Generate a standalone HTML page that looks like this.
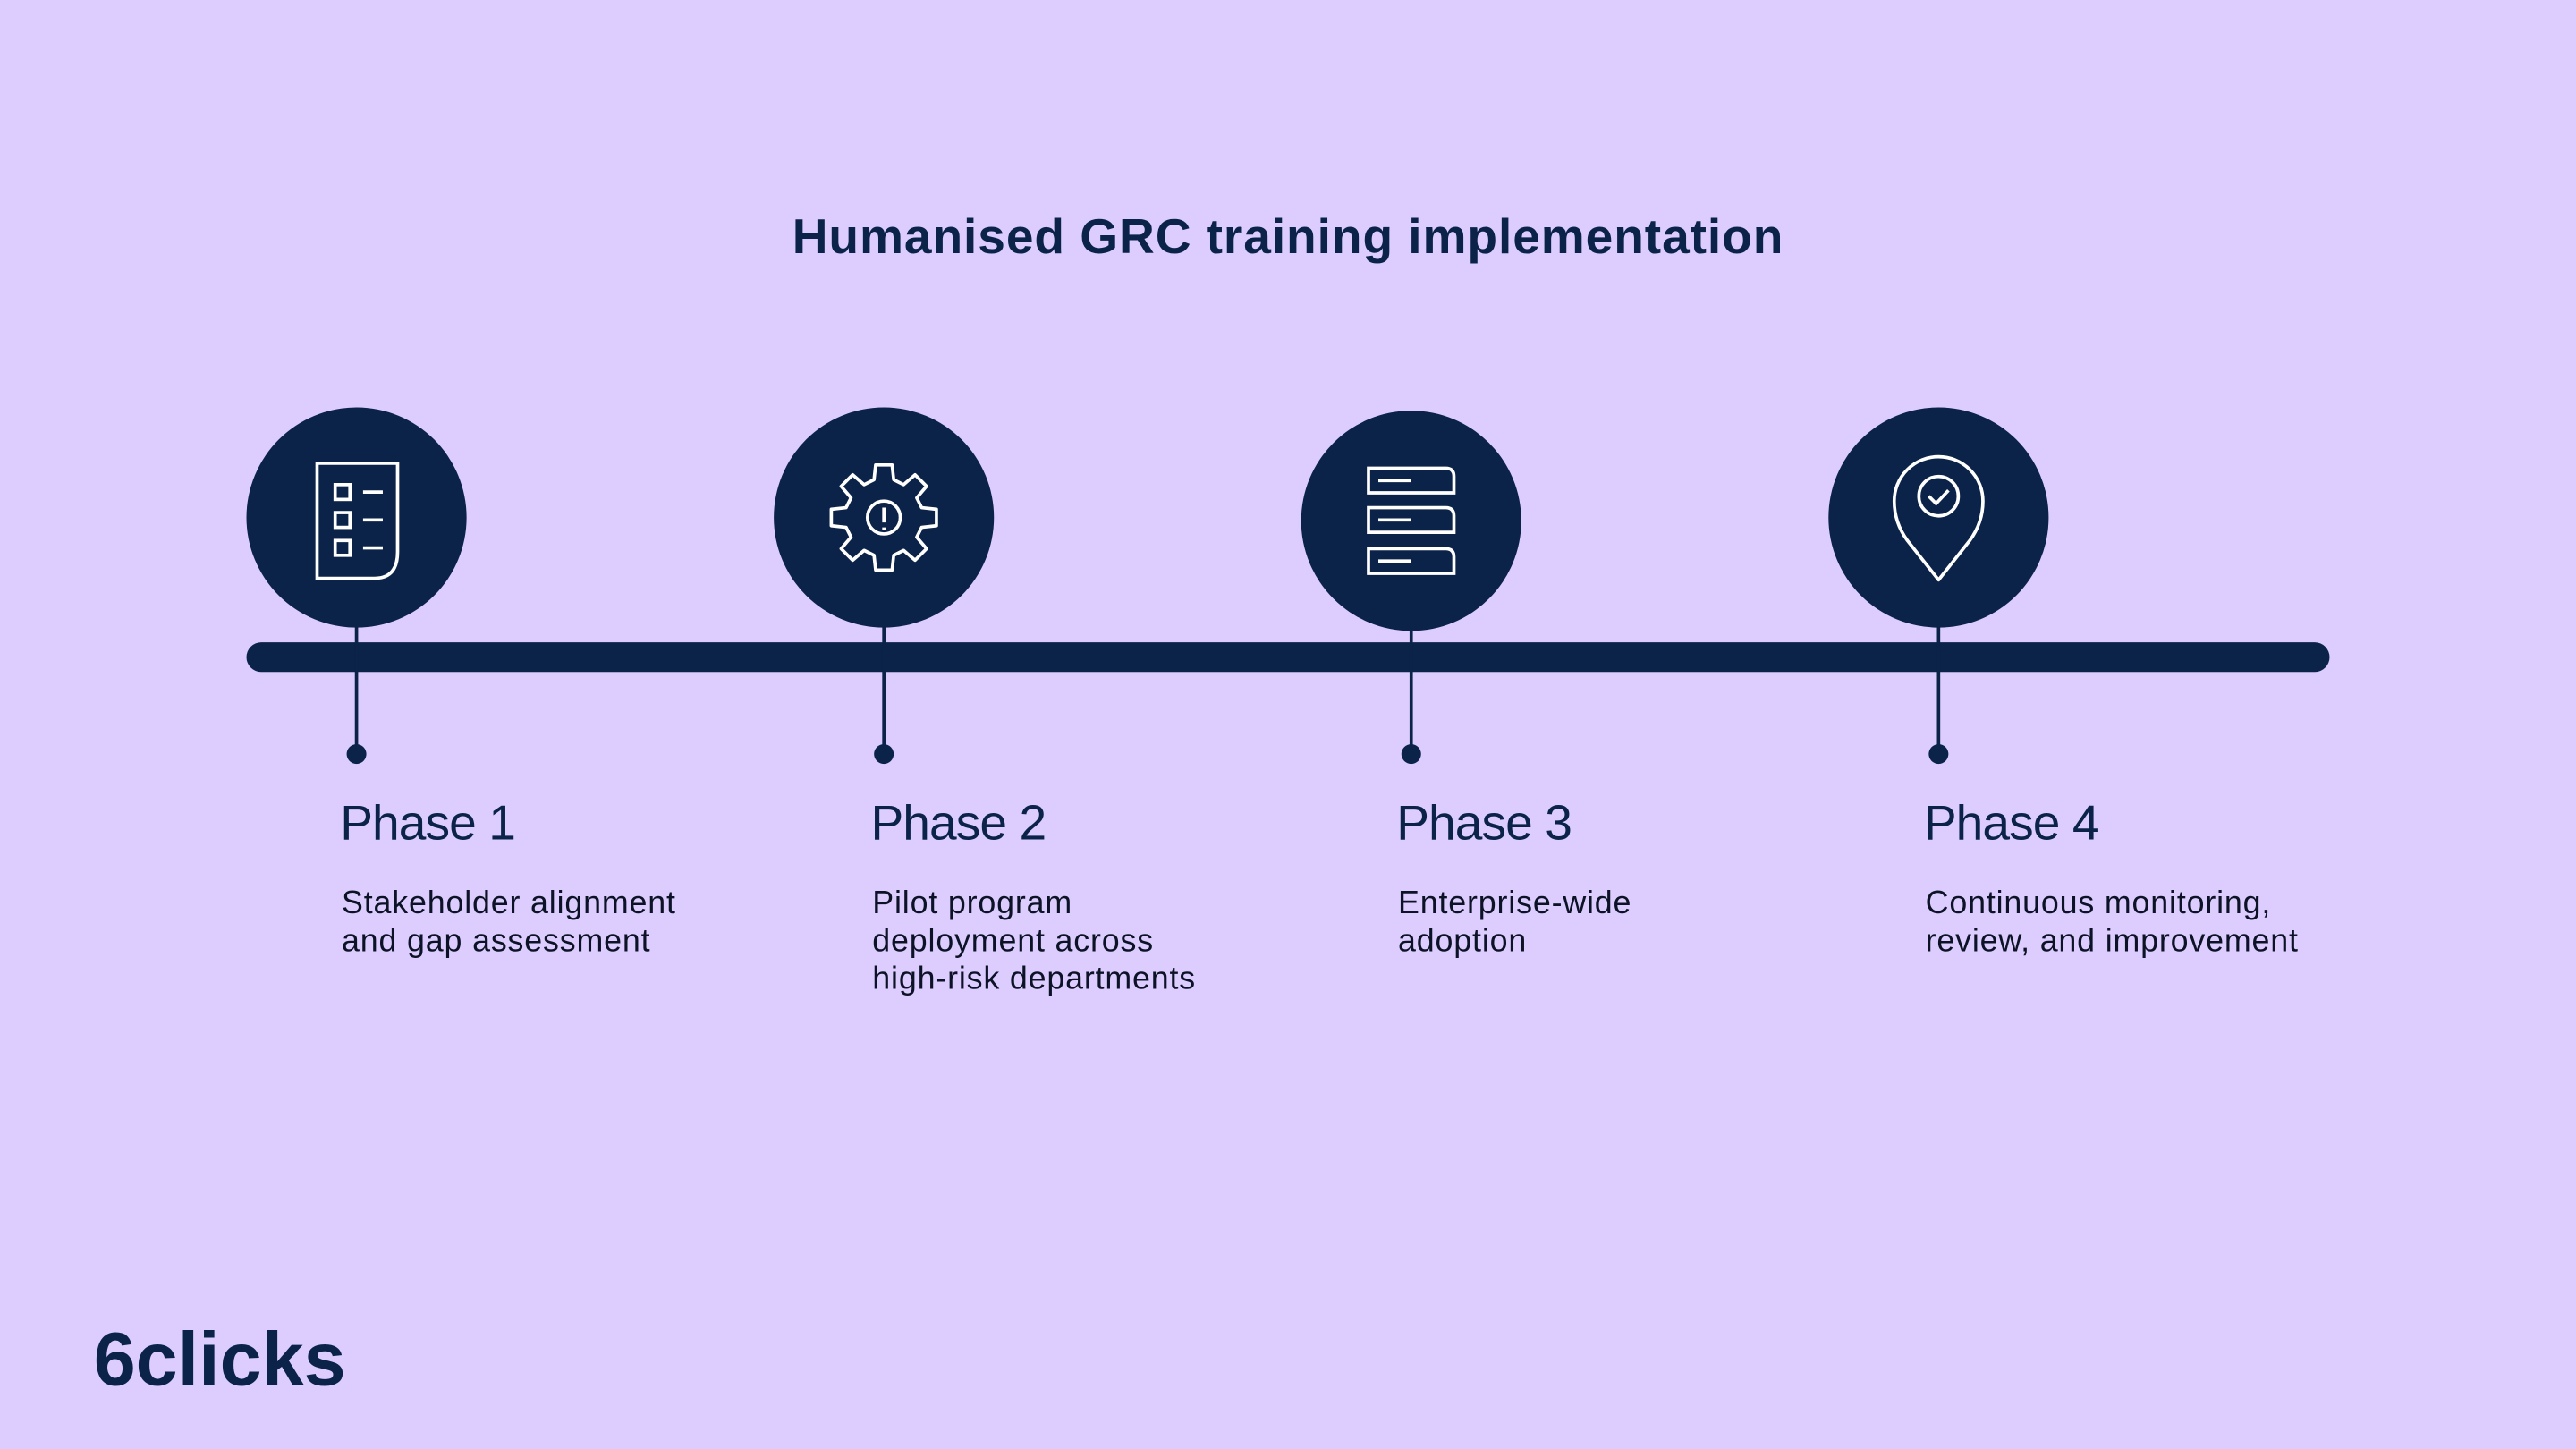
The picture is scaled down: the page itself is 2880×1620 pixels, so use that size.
<!DOCTYPE html>
<html><head><meta charset="utf-8"><style>
html,body{margin:0;padding:0;}
body{width:2880px;height:1620px;overflow:hidden;background:#dccdfe;}
#s{position:absolute;left:0;top:0;width:1568px;height:882px;transform:scale(1.836735);transform-origin:0 0;font-family:"Liberation Sans",sans-serif;}
.t{position:absolute;left:0;width:1568px;top:128px;text-align:center;font-size:30px;font-weight:bold;color:#0b2349;letter-spacing:0.5px;}
.ph{position:absolute;font-size:30px;color:#0b2349;top:485px;letter-spacing:-0.5px;}
.d{position:absolute;font-size:19.5px;line-height:23px;color:#0d1326;top:539px;letter-spacing:0.45px;}
.logo{position:absolute;left:57px;top:800px;font-size:46px;font-weight:bold;color:#0b2349;letter-spacing:0px;}
</style></head><body><div id="s">
<div class="t">Humanised GRC training implementation</div>
<svg width="1568" height="882" style="position:absolute;left:0;top:0">
<g fill="#0b2349" stroke="#0b2349">
<rect x="150" y="391" width="1268" height="18" rx="9" stroke="none"/>
<line x1="217" y1="380" x2="217" y2="459" stroke-width="2"/>
<line x1="538" y1="380" x2="538" y2="459" stroke-width="2"/>
<line x1="859" y1="380" x2="859" y2="459" stroke-width="2"/>
<line x1="1180" y1="380" x2="1180" y2="459" stroke-width="2"/>
<circle cx="217" cy="459" r="6" stroke="none"/><circle cx="538" cy="459" r="6" stroke="none"/>
<circle cx="859" cy="459" r="6" stroke="none"/><circle cx="1180" cy="459" r="6" stroke="none"/>
<circle cx="217" cy="315" r="67" stroke="none"/><circle cx="538" cy="315" r="67" stroke="none"/>
<circle cx="859" cy="317" r="67" stroke="none"/><circle cx="1180" cy="315" r="67" stroke="none"/>
</g>
<g fill="none" stroke="#fff" stroke-width="2">
<path d="M193 282 H242 V336 Q242 352 228 352 H193 Z"/>
<rect x="204" y="295" width="9" height="9"/><rect x="204" y="312" width="9" height="9"/><rect x="204" y="329" width="9" height="9"/>
<path d="M221 299.5 H233 M221 316.5 H233 M221 333.5 H233"/>
<path d="M533 283 h10 l1 9 l6 3 l7 -6 l7 7 l-6 7 l3 6 l9 1 v10 l-9 1 l-3 6 l6 7 l-7 7 l-7 -6 l-6 3 l-1 9 h-10 l-1 -9 l-6 -3 l-7 6 l-7 -7 l6 -7 l-3 -6 l-9 -1 v-10 l9 -1 l3 -6 l-6 -7 l7 -7 l7 6 l6 -3 z" stroke-linejoin="round"/>
<circle cx="538" cy="315" r="10"/>
<path d="M538 309 V318 M538 321 V322.5"/>
<path d="M833 285 H880 Q885 285 885 290 V300 H833 Z M833 309 H880 Q885 309 885 314 V324 H833 Z M833 334 H880 Q885 334 885 339 V349 H833 Z"/>
<path d="M839 292.5 H859 M839 316.5 H859 M839 341.5 H859"/>
<path d="M1180 353 L1161 329 Q1153 318 1153 305 A27 27 0 0 1 1207 305 Q1207 318 1199 329 Z" stroke-linejoin="round"/>
<circle cx="1180" cy="302" r="12"/>
<path d="M1174 302 L1178.5 306.5 L1186 298.5"/>
</g>
</svg>
<div class="ph" style="left:207px">Phase 1</div>
<div class="ph" style="left:530px">Phase 2</div>
<div class="ph" style="left:850px">Phase 3</div>
<div class="ph" style="left:1171px">Phase 4</div>
<div class="d" style="left:208px">Stakeholder alignment<br>and gap assessment</div>
<div class="d" style="left:531px">Pilot program<br>deployment across<br>high-risk departments</div>
<div class="d" style="left:851px">Enterprise-wide<br>adoption</div>
<div class="d" style="left:1172px">Continuous monitoring,<br>review, and improvement</div>
<div class="logo">6clicks</div>
</div></body></html>
